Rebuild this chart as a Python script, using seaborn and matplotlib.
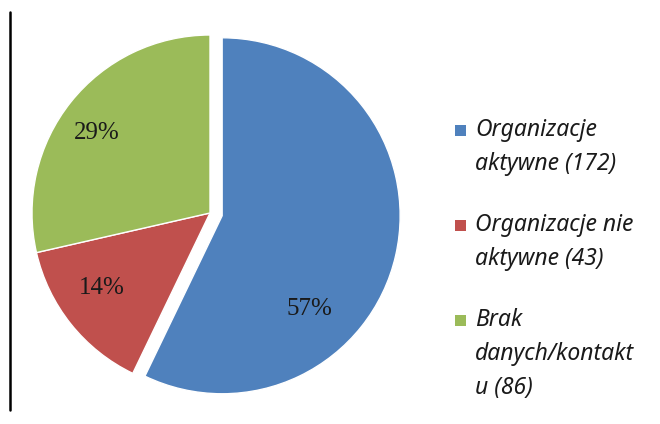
import matplotlib
matplotlib.use("Agg")
import matplotlib.pyplot as plt
import seaborn as sns
from matplotlib.patches import Rectangle
from matplotlib.lines import Line2D

labels = ["Organizacje\naktywne (172)", "Organizacje nie\naktywne (43)", "Brak\ndanych/kontakt\nu (86)"]
counts = [172, 43, 86]
pct_labels = ["57%", "14%", "29%"]
colors = ["#4F81BD", "#C0504D", "#9BBB59"]
explode = [0.07, 0, 0]
# where Excel placed the percentage labels (data units, radius = 1)
label_pos = [(0.56, -0.54), (-0.61, -0.42), (-0.635, 0.45)]

sns.set_theme(style="white")

W, H = 660, 424
fig = plt.figure(figsize=(W / 100, H / 100), dpi=100)
lim = 1.15
w = 2 * lim * 178
ax = fig.add_axes([(210 - w / 2) / W, (H - 213 - w / 2) / H, w / W, w / H])

wedges, _ = ax.pie(
    counts,
    colors=colors,
    startangle=90,
    counterclock=False,
    explode=explode,
    wedgeprops=dict(edgecolor="white", linewidth=1),
)
for (x, y), txt in zip(label_pos, pct_labels):
    ax.text(x, y, txt, ha="center", va="center", fontsize=18,
            family="Liberation Serif", color="#1a1a1a")
ax.set_xlim(-lim, lim)
ax.set_ylim(-lim, lim)
ax.set_aspect("equal")
ax.axis("off")

# Excel-style legend: square aligned with the first line of each entry
for i, (lab, c) in enumerate(zip(labels, colors)):
    y = 130 + i * 95
    fig.patches.append(Rectangle((455 / W, 1 - (y + 6) / H), 11 / W, 11 / H,
                                 transform=fig.transFigure, facecolor=c,
                                 edgecolor="none"))
    fig.text(475 / W, 1 - (y - 12) / H, lab, ha="left", va="top",
             family="Noto Sans", style="italic", fontsize=16.5,
             color="#1a1a1a", linespacing=1.55)

# vertical rule at the left edge
fig.add_artist(Line2D([10 / W, 10 / W], [1 - 12 / H, 1 - 410 / H],
                      transform=fig.transFigure, color="black", linewidth=1.8))

fig.savefig("out.png", dpi=100)
